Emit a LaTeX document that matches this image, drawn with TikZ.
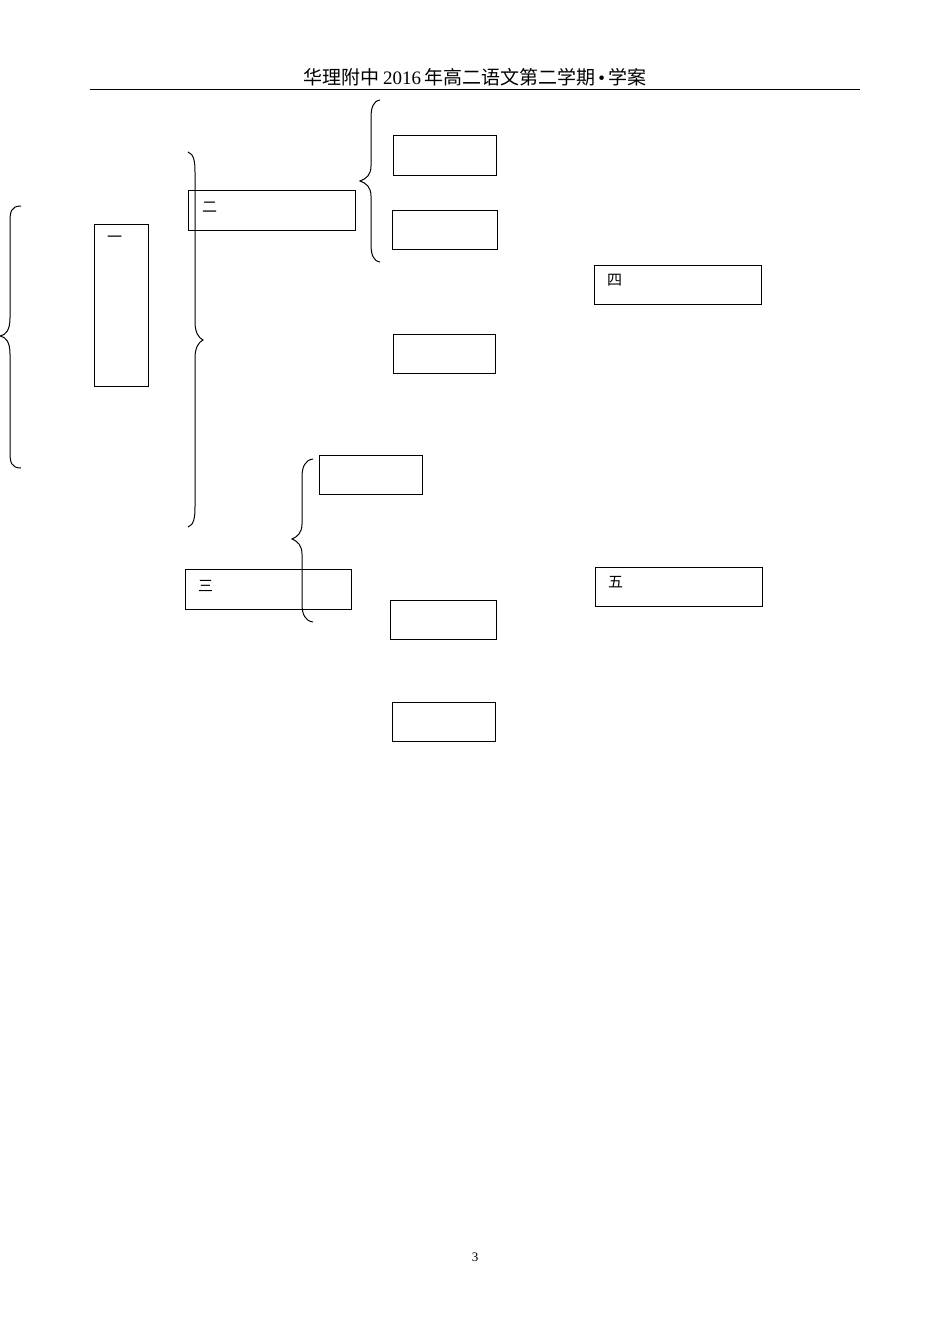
\documentclass[tikz,border=0pt]{standalone}
\usepackage{fontspec}
\setmainfont{Liberation Serif}
\newfontfamily\cjk{Noto Sans CJK SC}
\begin{document}
\begin{tikzpicture}[x=1pt,y=-1pt,
  box/.style={draw,line width=1.1pt,anchor=north west,inner sep=0pt},
  brc/.style={draw,line width=1pt},
  lbl/.style={anchor=west,inner sep=0pt,font=\cjk\fontsize{15}{17}\selectfont}]
\useasboundingbox[fill=white] (0,0) rectangle (950,1344);
% header
\node (hdr) at (475,77) {\fontsize{19}{21}\selectfont{\cjk 华理附中}\,2016\,{\cjk 年高二语文第二学期}\,\textbullet\,{\cjk 学案}};
\coordinate (hl) at (90,89);
\coordinate (hr) at (860,89);
\draw[line width=1pt] (hl) -- (hr);
% boxes
\node[box,minimum width=54pt,minimum height=162pt] (b1) at (94,224) {};
\node[lbl] (t1) at (107,239) {一};
\node[box,minimum width=167pt,minimum height=40pt] (b2) at (188,190) {};
\node[lbl] (t2) at (202,207) {二};
\node[box,minimum width=103pt,minimum height=40pt] (ba) at (393,135) {};
\node[box,minimum width=105pt,minimum height=39pt] (bb) at (392,210) {};
\node[box,minimum width=167pt,minimum height=39pt] (b4) at (594,265) {};
\node[lbl] (t4) at (607,280) {四};
\node[box,minimum width=102pt,minimum height=39pt] (bc) at (393,334) {};
\node[box,minimum width=103pt,minimum height=39pt] (bd) at (319,455) {};
\node[box,minimum width=166pt,minimum height=40pt] (b3) at (185,569) {};
\node[lbl] (t3) at (198,586) {三};
\node[box,minimum width=167pt,minimum height=39pt] (b5) at (595,567) {};
\node[lbl] (t5) at (608,582) {五};
\node[box,minimum width=106pt,minimum height=39pt] (be) at (390,600) {};
\node[box,minimum width=103pt,minimum height=39pt] (bf) at (392,702) {};
% brace 1 (points left)
\draw[brc] (21,206) .. controls (11,206) and (10,212) .. (10,222) -- (10,318)
  .. controls (10,330) and (6,335) .. (0,336)
  .. controls (6,337) and (10,342) .. (10,354) -- (10,452)
  .. controls (10,462) and (11,468) .. (21,468);
% brace 2 (points right)
\draw[brc] (188,152) .. controls (194,154) and (195,162) .. (195,172) -- (195,322)
  .. controls (195,333) and (199,338) .. (203,340)
  .. controls (199,342) and (195,347) .. (195,358) -- (195,507)
  .. controls (195,517) and (194,525) .. (188,527);
% brace 3 (points left)
\draw[brc] (380,100) .. controls (373,101) and (371,108) .. (371,118) -- (371,166)
  .. controls (371,175) and (366,179) .. (360,181)
  .. controls (366,183) and (371,187) .. (371,196) -- (371,244)
  .. controls (371,254) and (373,261) .. (380,262);
% brace 4 (points left)
\draw[brc] (313,459) .. controls (305,460) and (302,467) .. (302,477) -- (302,524)
  .. controls (302,533) and (297,537) .. (292,539)
  .. controls (297,541) and (302,545) .. (302,554) -- (302,604)
  .. controls (302,614) and (305,621) .. (313,622);
% page number
\node (pg) at (475,1257) {\fontsize{13}{15}\selectfont 3};
\end{tikzpicture}
\end{document}
